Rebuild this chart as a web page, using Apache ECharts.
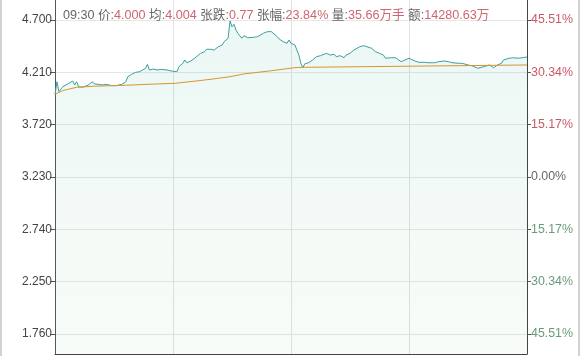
<!DOCTYPE html>
<html><head><meta charset="utf-8">
<script src="https://cdn.jsdelivr.net/npm/echarts@6/dist/echarts.min.js"></script>
<style>html,body{margin:0;padding:0;background:#fff}#c{width:580px;height:356px}</style>
</head><body><div id="c"></div>
<script>
const prevClose = 3.230;
const priceMinutes = [0,1,2,4,5,7,9,10,11,12,14,15,17,19,20,22,24,26,27,29,31,32,34,36,37,39,41,43,44,46,47,48,50,52,54,55,57,59,60,62,63,65,66,67,69,71,72,74,76,77,79,81,82,83,85,86,88,89,90,91,92,93,94,95,96,97,98,99,101,103,104,106,108,109,110,111,113,114,116,117,118,119,120,122,123,124,125,126,127,128,129,130,131,133,135,136,138,140,142,143,145,147,148,150,152,153,155,157,158,161,163,164,165,167,168,169,171,173,174,176,178,180,181,183,185,186,188,190,191,193,195,196,198,200,202,203,205,207,208,210,212,213,215,216,218,219,221,223,224,225,227,228,229,231,233,235,236,238,240];
const priceValues = [4.000,4.122,4.029,4.076,4.085,4.107,4.129,4.092,4.122,4.076,4.070,4.076,4.092,4.122,4.101,4.098,4.092,4.098,4.082,4.085,4.085,4.092,4.098,4.122,4.169,4.192,4.210,4.216,4.232,4.248,4.285,4.232,4.241,4.232,4.238,4.225,4.232,4.223,4.232,4.216,4.263,4.295,4.326,4.300,4.316,4.342,4.357,4.388,4.403,4.426,4.426,4.419,4.410,4.450,4.466,4.497,4.529,4.691,4.637,4.660,4.607,4.576,4.591,4.529,4.553,4.544,4.534,4.544,4.538,4.544,4.560,4.576,4.591,4.607,4.591,4.576,4.544,4.522,4.497,4.513,4.482,4.513,4.482,4.466,4.450,4.372,4.295,4.253,4.290,4.279,4.300,4.295,4.326,4.357,4.366,4.379,4.388,4.372,4.379,4.357,4.366,4.347,4.372,4.388,4.419,4.435,4.450,4.460,4.450,4.435,4.403,4.419,4.388,4.372,4.342,4.357,4.347,4.347,4.335,4.310,4.326,4.342,4.326,4.316,4.304,4.295,4.304,4.300,4.295,4.300,4.310,4.304,4.316,4.310,4.300,4.310,4.295,4.295,4.285,4.279,4.272,4.263,4.248,4.232,4.263,4.272,4.279,4.253,4.248,4.279,4.295,4.326,4.310,4.342,4.347,4.342,4.351,4.347,4.354];
const avgMinutes = [0,4,11,20,36,50,61,76,82,89,96,110,122,126,157,158,240];
const avgValues = [4.004,4.040,4.070,4.080,4.089,4.100,4.107,4.138,4.152,4.169,4.195,4.225,4.254,4.257,4.263,4.279,4.279];
const priceTicks = [1.760,2.250,2.740,3.230,3.720,4.210,4.700];
const pctTickLabels = ['45.51%','30.34%','15.17%','0.00%','15.17%','30.34%','45.51%'];
const headerTime = '09:30';
const headerLabels = ['价','均','张跌','张幅','量','额'];
const headerValues = ['4.000','4.004','0.77','23.84%','35.66万手','14280.63万'];

const FONT = '"Liberation Sans", "Noto Sans CJK SC", sans-serif';
let headerText = '{l|' + headerTime + ' }';
headerLabels.forEach((l, i) => { headerText += '{l|' + l + ':}{v|' + headerValues[i] + '} '; });

function pctColor(v) {
  const d = Number(v) - prevClose;
  if (Math.abs(d) < 1e-6) return '#666666';
  return d > 0 ? '#c85a64' : '#6b9a7b';
}

const chart = echarts.init(document.getElementById('c'));
chart.setOption({
  animation: false,
  backgroundColor: '#ffffff',
  title: {
    text: headerText, left: 58, top: 4,
    textStyle: {
      fontFamily: FONT, fontSize: 12.6, fontWeight: 'normal',
      rich: {
        l: { color: '#666666', fontFamily: FONT, fontSize: 12.6 },
        v: { color: '#cc6670', fontFamily: FONT, fontSize: 12.6 }
      }
    }
  },
  graphic: [
    { type: 'rect', left: 0, top: 0, shape: { width: 2, height: 356 }, style: { fill: '#d2d2d2' } },
    { type: 'rect', right: 0, top: 0, shape: { width: 2, height: 356 }, style: { fill: '#d2d2d2' } }
  ],
  grid: { left: 55, right: 53, top: 0, bottom: 2 },
  xAxis: {
    type: 'value', min: 0, max: 240, interval: 60,
    axisLine: { show: true, lineStyle: { color: '#444', width: 1 } },
    axisTick: { show: false }, axisLabel: { show: false },
    splitLine: { show: true, lineStyle: { color: '#e2e2e2', width: 1 } }
  },
  yAxis: [
    {
      type: 'value', position: 'left', min: 1.5726, max: 4.8874,
      axisLine: { show: true, lineStyle: { color: '#555', width: 1 } },
      axisTick: { show: true, customValues: priceTicks, length: 5, inside: false, lineStyle: { color: '#555' } },
      axisLabel: { customValues: priceTicks, formatter: v => Number(v).toFixed(3), color: '#444', fontFamily: FONT, fontSize: 12, margin: 3 },
      splitLine: { show: true, lineStyle: { color: '#e6e6e6', width: 1 } }
    },
    {
      type: 'value', position: 'right', min: 1.5726, max: 4.8874,
      axisLine: { show: true, lineStyle: { color: '#444', width: 1 } },
      axisTick: { show: true, customValues: priceTicks, length: 4, lineStyle: { color: '#555' } },
      axisLabel: {
        customValues: priceTicks,
        formatter: v => { const i = priceTicks.findIndex(t => Math.abs(t - v) < 1e-6); return i >= 0 ? pctTickLabels[priceTicks.length - 1 - i] : ''; },
        color: v => pctColor(v), fontFamily: FONT, fontSize: 12.4, margin: 4
      },
      splitLine: { show: false }
    }
  ],
  series: [
    {
      type: 'line', yAxisIndex: 0, showSymbol: false, symbol: 'none',
      data: priceMinutes.map((m, i) => [m, priceValues[i]]),
      lineStyle: { color: '#3e9ea0', width: 1 },
      areaStyle: {
        origin: 'start',
        color: new echarts.graphic.LinearGradient(0, 0, 0, 1, [
          { offset: 0, color: 'rgba(0,160,140,0.11)' },
          { offset: 1, color: 'rgba(60,160,60,0.05)' }
        ])
      },
      z: 2
    },
    {
      type: 'line', yAxisIndex: 0, showSymbol: false, symbol: 'none',
      data: avgMinutes.map((m, i) => [m, avgValues[i]]),
      lineStyle: { color: '#d9952c', width: 1 },
      z: 3
    }
  ]
});
</script></body></html>
